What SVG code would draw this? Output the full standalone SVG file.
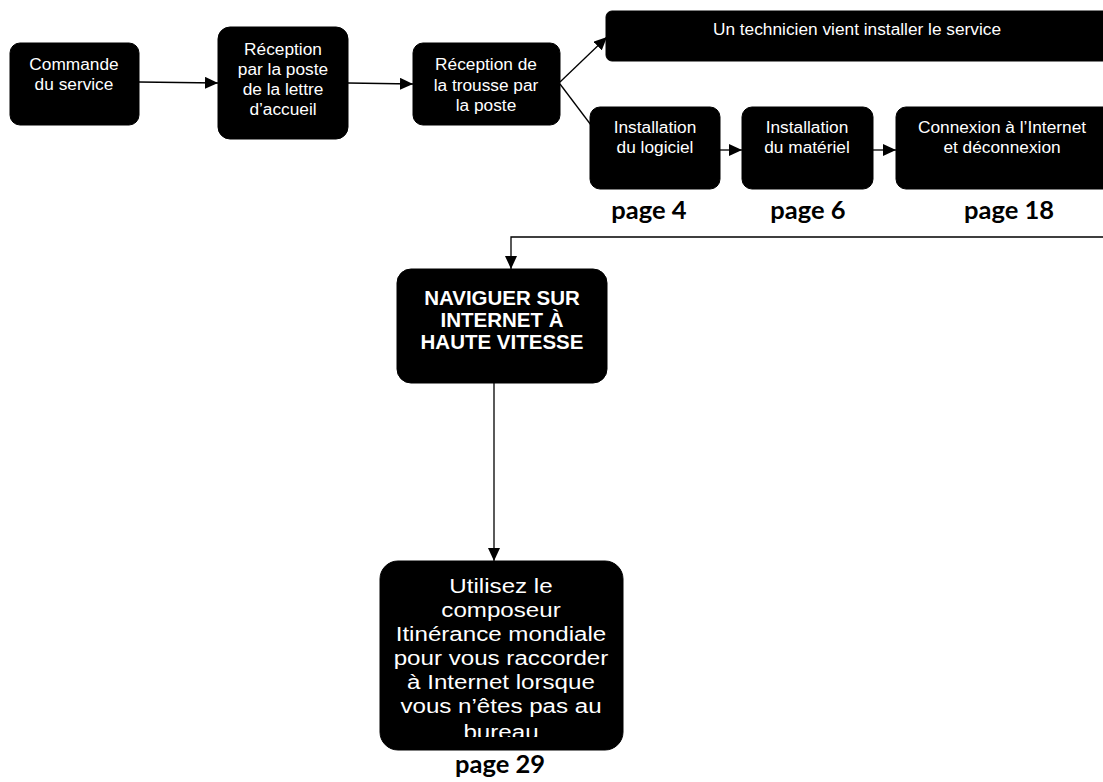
<svg xmlns="http://www.w3.org/2000/svg" width="1103" height="782" viewBox="0 0 1103 782">
<style>
.box{fill:#000;stroke:#000;stroke-width:1}
.t{font-family:"Liberation Sans",Arial,sans-serif;fill:#fff;text-anchor:middle;font-size:17.3px}
.tb{font-family:"Liberation Sans",Arial,sans-serif;fill:#fff;text-anchor:middle;font-size:20.5px;font-weight:bold}
.tl{font-family:"Liberation Sans",Arial,sans-serif;fill:#fff;text-anchor:middle;font-size:21px}
.pg{font-family:Lato,"Open Sans",sans-serif;font-weight:bold;fill:#000;text-anchor:middle;font-size:25.5px}
.c{stroke:#000;stroke-width:1.3;fill:none}
</style>
<defs>
<marker id="ah" markerUnits="userSpaceOnUse" markerWidth="14" markerHeight="12" refX="13" refY="6" orient="auto">
<path d="M0,0 L13,6 L0,12 Z" fill="#000"/>
</marker>
<clipPath id="clip8"><rect x="380" y="561" width="243" height="176"/></clipPath>
</defs>
<rect width="1103" height="782" fill="#fff"/>
<g id="connectors">
<line class="c" x1="139" y1="82" x2="218" y2="83" marker-end="url(#ah)"/>
<line class="c" x1="348" y1="83" x2="413" y2="84" marker-end="url(#ah)"/>
<line class="c" x1="560" y1="82" x2="607" y2="37" marker-end="url(#ah)"/>
<line class="c" x1="560" y1="84" x2="594" y2="129"/>
<line class="c" x1="720" y1="150" x2="742" y2="150" marker-end="url(#ah)"/>
<line class="c" x1="873" y1="150" x2="896" y2="150" marker-end="url(#ah)"/>
<polyline class="c" points="1103,237 511,237 511,269" marker-end="url(#ah)"/>
<line class="c" x1="494" y1="383" x2="494" y2="561" marker-end="url(#ah)"/>
</g>
<g id="n1">
<rect class="box" x="10" y="43" width="129" height="82" rx="10"/>
<text class="t" x="74" y="70">Commande</text>
<text class="t" x="74" y="90">du service</text>
</g>
<g id="n2">
<rect class="box" x="218" y="27" width="130" height="112" rx="12"/>
<text class="t" x="283" y="55">Réception</text>
<text class="t" x="283" y="75">par la poste</text>
<text class="t" x="283" y="95">de la lettre</text>
<text class="t" x="283" y="115">d’accueil</text>
</g>
<g id="n3">
<rect class="box" x="413" y="43" width="147" height="82" rx="10"/>
<text class="t" x="486" y="70">Réception de</text>
<text class="t" x="486" y="91">la trousse par</text>
<text class="t" x="486" y="111">la poste</text>
</g>
<g id="n4">
<rect class="box" x="606" y="11" width="510" height="50" rx="6"/>
<text class="t" x="857" y="35">Un technicien vient installer le service</text>
</g>
<g id="n5">
<rect class="box" x="590" y="107" width="130" height="82" rx="10"/>
<text class="t" x="655" y="133">Installation</text>
<text class="t" x="655" y="153">du logiciel</text>
<text class="pg" x="649" y="219">page 4</text>
</g>
<g id="n6">
<rect class="box" x="742" y="107" width="131" height="82" rx="10"/>
<text class="t" x="807" y="133">Installation</text>
<text class="t" x="807" y="153">du matériel</text>
<text class="pg" x="808" y="219">page 6</text>
</g>
<g id="n7">
<rect class="box" x="896" y="107" width="220" height="82" rx="10"/>
<text class="t" x="1002" y="133">Connexion à l’Internet</text>
<text class="t" x="1002" y="153">et déconnexion</text>
<text class="pg" x="1009" y="219">page 18</text>
</g>
<g id="n8">
<rect class="box" x="397" y="269" width="210" height="114" rx="14"/>
<text class="tb" x="502" y="305">NAVIGUER SUR</text>
<text class="tb" x="502" y="327">INTERNET À</text>
<text class="tb" x="502" y="349">HAUTE VITESSE</text>
</g>
<g id="n9">
<rect class="box" x="380" y="561" width="243" height="189" rx="18"/>
<g clip-path="url(#clip8)">
<g transform="translate(501,0) scale(1.15,1) translate(-501,0)">
<text class="tl" x="501" y="593">Utilisez le</text>
<text class="tl" x="501" y="617">composeur</text>
<text class="tl" x="501" y="641">Itinérance mondiale</text>
<text class="tl" x="501" y="665">pour vous raccorder</text>
<text class="tl" x="501" y="689">à Internet lorsque</text>
<text class="tl" x="501" y="713">vous n’êtes pas au</text>
<text class="tl" x="501" y="739">bureau</text>
</g>
</g>
<text class="pg" x="500" y="773">page 29</text>
</g>
</svg>
